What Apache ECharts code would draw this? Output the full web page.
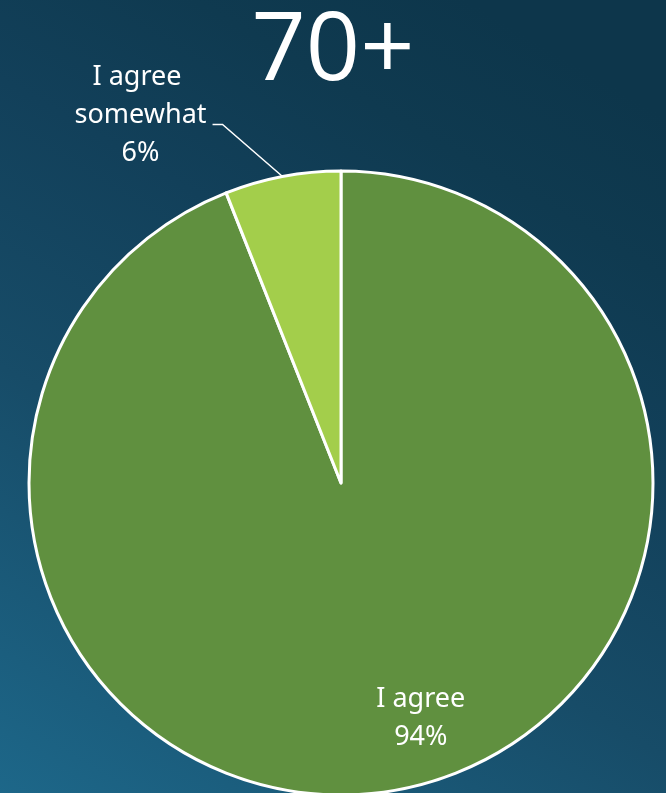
<!DOCTYPE html>
<html>
<head>
<meta charset="utf-8">
<script src="https://cdn.jsdelivr.net/npm/echarts@6/dist/echarts.min.js"></script>
<style>
  html, body { margin: 0; padding: 0; background: #144760; }
  #chart { width: 666px; height: 793px; }
</style>
</head>
<body>
<div id="chart"></div>
<script>
var titleText = '70+';
var categories = ['I agree', 'I agree somewhat'];
var values = [94, 6];
var colors = ['#60903f', '#a3ce4b'];

var chart = echarts.init(document.getElementById('chart'), null, { renderer: 'canvas' });

var data = categories.map(function (name, i) {
  var item = { name: name, value: values[i], itemStyle: { color: colors[i] } };
  if (i === 0) {
    item.label = { position: 'inside' };
    item.labelLine = { show: false };
  } else {
    item.label = { position: 'outside', width: 150, overflow: 'break', align: 'center' };
  }
  return item;
});

chart.setOption({
  animation: false,
  backgroundColor: {
    type: 'linear', x: 0, y: 1, x2: 0.7, y2: 0,
    colorStops: [
      { offset: 0, color: '#1d6789' },
      { offset: 0.4, color: '#174c68' },
      { offset: 0.67, color: '#12405a' },
      { offset: 0.85, color: '#0f3a50' },
      { offset: 1, color: '#0d364b' }
    ]
  },
  title: {
    text: titleText,
    left: 'center',
    top: 0,
    textStyle: {
      color: '#ffffff',
      fontFamily: 'Open Sans',
      fontWeight: 400,
      fontSize: 95
    }
  },
  series: [{
    type: 'pie',
    center: [341, 483],
    radius: 312,
    startAngle: 90,
    clockwise: true,
    silent: true,
    emphasis: { disabled: true },
    itemStyle: { borderColor: '#ffffff', borderWidth: 3 },
    label: {
      color: '#ffffff',
      fontFamily: 'Noto Sans',
      fontSize: 27,
      lineHeight: 38,
      formatter: function (p) { return p.name + '\n' + Math.round(p.percent) + '%'; }
    },
    labelLine: { show: true, lineStyle: { color: '#ffffff', width: 1.5 } },
    labelLayout: function (p) {
      if (p.dataIndex === 0) {
        return { dx: 50, dy: 79 };
      }
      var pts = p.labelLinePoints;
      if (!pts || !pts.length) return {};
      var a = pts[0];
      return {
        x: a[0] - 142,
        y: a[1] - 61,
        align: 'center',
        verticalAlign: 'middle',
        labelLinePoints: [a, [a[0] - 60, a[1] - 52], [a[0] - 70, a[1] - 52]]
      };
    },
    data: data
  }]
});
</script>
</body>
</html>
